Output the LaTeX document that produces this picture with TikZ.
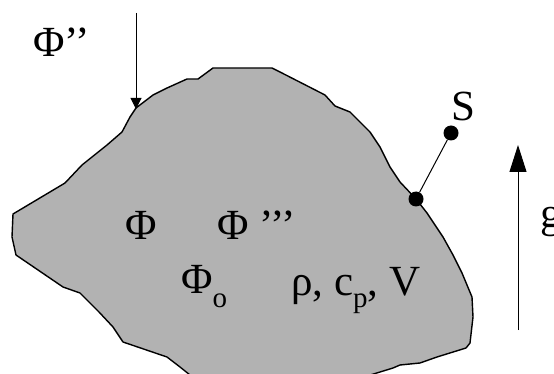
\documentclass[tikz,border=0pt]{standalone}
\usepackage{fontspec}
\setmainfont{Liberation Serif}
\usetikzlibrary{arrows.meta,positioning}
\newcommand{\bigtxt}{\fontsize{43}{50}\selectfont}
\newcommand{\subtxt}{\fontsize{29}{32}\selectfont}

\begin{document}
\begin{tikzpicture}[x=1pt,y=-1pt,
  lbl/.style={font=\bigtxt,inner sep=0pt,anchor=base west},
  dot/.style={circle,fill=black,inner sep=0pt,minimum size=15pt},
  arr/.style={line width=1pt},
  body/.style={fill=black!30,draw=black,line width=1.4pt,line join=round}]
  \clip (0,0) rectangle (554,374);
  % body outline
  \draw[body] (13,214) -- (65,183) -- (82,165) -- (107,145) -- (122,132)
    -- (130,117) -- (136,108) -- (153,95) -- (167,88) -- (187,79) -- (198,79)
    -- (213,68) -- (272,68) -- (280,72) -- (325,95) -- (335,106) -- (350,112)
    -- (370,132) -- (380,147) -- (390,167) -- (400,182) -- (416,199)
    -- (427,213) -- (443,237) -- (453,255) -- (462,273) -- (472,297)
    -- (473,317) -- (470,343) -- (466,348) -- (437,357) -- (420,363)
    -- (400,365) -- (393,368) -- (367,376) -- (367,390) -- (190,390)
    -- (190,375) -- (180,367) -- (167,357) -- (123,342) -- (113,327)
    -- (99,312) -- (80,293) -- (63,287) -- (16,255) -- (12,237) -- cycle;
  % labels
  \node[lbl] (fluxin) at (33,57) {Φ’’};
  \node[lbl] (phi) at (125,240) {Φ};
  \node[lbl] (phigen) at (217,240) {Φ ’’’};
  \node[lbl] (phinull) at (181,293) {Φ\raisebox{-14pt}{\subtxt o}};
  \node[lbl] (props) at (291,295) {ρ, c\raisebox{-12pt}{\subtxt p},~V};
  \node[lbl] (slbl) at (451,121) {S};
  \node[lbl] (glbl) at (540,228) {g};
  % flux arrow
  \coordinate (fluxtop) at (136,13);
  \coordinate (fluxhit) at (136,109);
  \draw[arr,-{Triangle[length=11pt,width=11pt]}] (fluxtop) -- (fluxhit);
  % sensor
  \node[dot] (contact) at (416,199) {};
  \node[dot] (sensor) at (451,133) {};
  \draw[arr] (contact) -- (sensor);
  % upward arrow
  \coordinate (gbot) at (518,330);
  \coordinate (gtop) at (518,145);
  \draw[arr,-{Triangle[length=27pt,width=17pt]}] (gbot) -- (gtop);
\end{tikzpicture}
\end{document}
